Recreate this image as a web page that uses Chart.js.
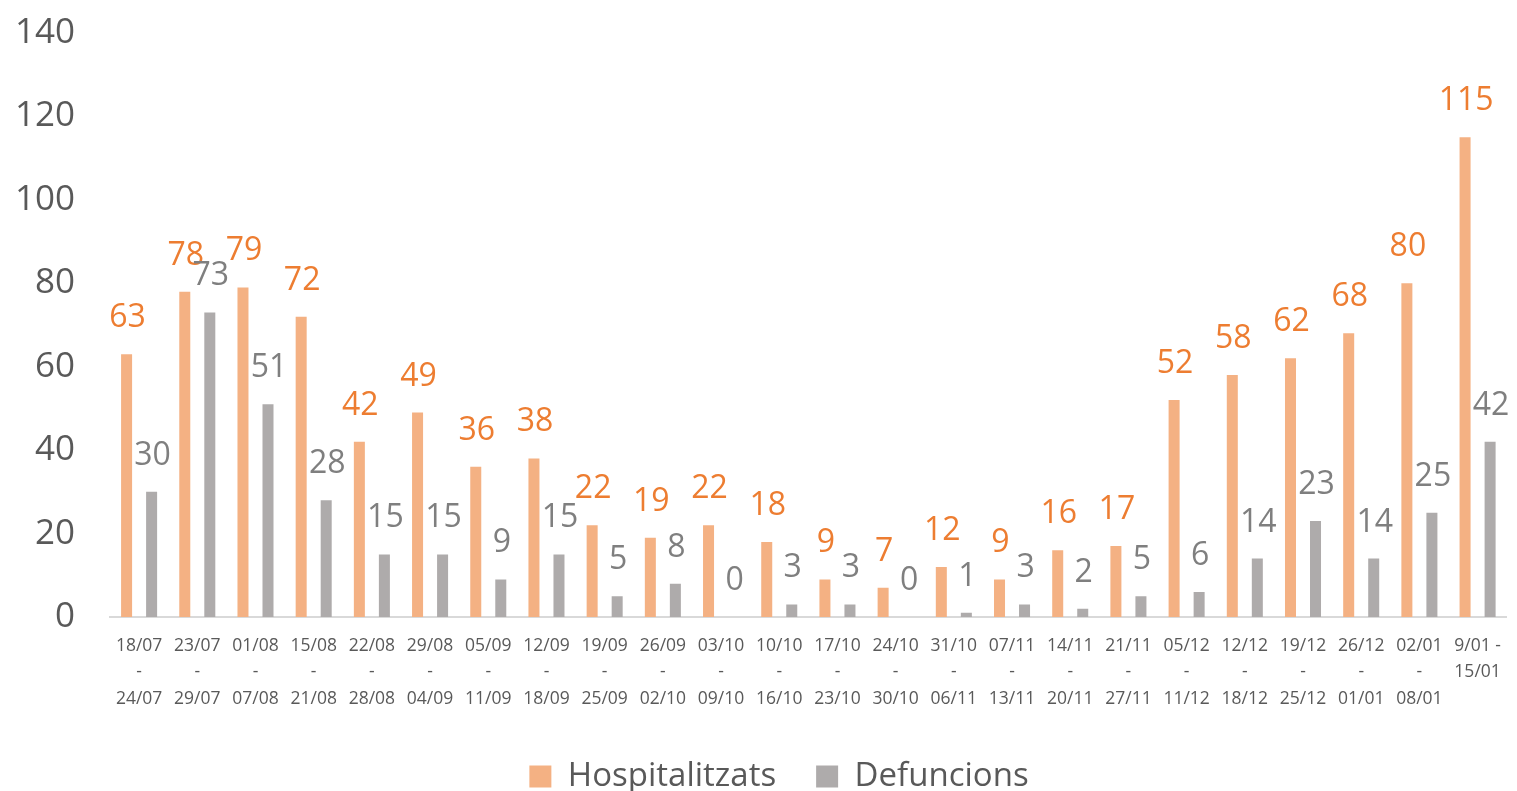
<!DOCTYPE html>
<html>
<head>
<meta charset="utf-8">
<script src="https://cdn.jsdelivr.net/npm/chart.js@4/dist/chart.umd.min.js"></script>
<style>
  html, body { margin: 0; padding: 0; background: #fff; overflow: hidden; }
  /* canvas runs a little past the window so the legend sits low like the original */
  #wrap { width: 1517px; height: 803px; }
</style>
</head>
<body>
<div id="wrap"><canvas id="chart"></canvas></div>
<script>
// --- Data ---
const weekLabels = [
  ['18/07', '-', '24/07'], ['23/07', '-', '29/07'], ['01/08', '-', '07/08'],
  ['15/08', '-', '21/08'], ['22/08', '-', '28/08'], ['29/08', '-', '04/09'],
  ['05/09', '-', '11/09'], ['12/09', '-', '18/09'], ['19/09', '-', '25/09'],
  ['26/09', '-', '02/10'], ['03/10', '-', '09/10'], ['10/10', '-', '16/10'],
  ['17/10', '-', '23/10'], ['24/10', '-', '30/10'], ['31/10', '-', '06/11'],
  ['07/11', '-', '13/11'], ['14/11', '-', '20/11'], ['21/11', '-', '27/11'],
  ['05/12', '-', '11/12'], ['12/12', '-', '18/12'], ['19/12', '-', '25/12'],
  ['26/12', '-', '01/01'], ['02/01', '-', '08/01'], ['9/01 -', '15/01'],
];
const hospitalitzats = [63, 78, 79, 72, 42, 49, 36, 38, 22, 19, 22, 18, 9, 7, 12, 9, 16, 17, 52, 58, 62, 68, 80, 115];
const defuncions = [30, 73, 51, 28, 15, 15, 9, 15, 5, 8, 0, 3, 3, 0, 1, 3, 2, 5, 6, 14, 23, 14, 25, 42];
const yTicks = { min: 0, max: 140, step: 20 };

const FONT = "'Open Sans', 'Noto Sans', sans-serif";
const TEXT_GRAY = '#595959';
const COLORS = {
  hosp: { bar: '#F4B183', label: '#ED7D31' },
  def: { bar: '#AEABAB', label: '#7F7F7F' },
};
const LEGEND_SHIFT = 23; // original legend sits a bit right of the page centre

// --- Value labels above bars ---
const valueLabels = {
  id: 'valueLabels',
  afterLayout(chart) {
    chart.legend.left += LEGEND_SHIFT;
    chart.legend.right += LEGEND_SHIFT;
  },
  afterDatasetsDraw(chart) {
    const ctx = chart.ctx;
    ctx.save();
    ctx.font = `32px ${FONT}`;
    ctx.textAlign = 'center';
    ctx.textBaseline = 'alphabetic';
    chart.data.datasets.forEach((ds, i) => {
      const meta = chart.getDatasetMeta(i);
      ctx.fillStyle = ds.labelColor;
      meta.data.forEach((bar, j) => {
        ctx.fillText(String(ds.data[j]), bar.x + 1, bar.y - 27);
      });
    });
    ctx.restore();
  },
};

// --- Chart ---
new Chart(document.getElementById('chart'), {
  type: 'bar',
  data: {
    labels: weekLabels,
    datasets: [
      {
        label: 'Hospitalitzats',
        data: hospitalitzats,
        backgroundColor: COLORS.hosp.bar,
        labelColor: COLORS.hosp.label,
        categoryPercentage: 0.86,
        barPercentage: 0.44,
      },
      {
        label: 'Defuncions',
        data: defuncions,
        backgroundColor: COLORS.def.bar,
        labelColor: COLORS.def.label,
        categoryPercentage: 0.86,
        barPercentage: 0.44,
      },
    ],
  },
  options: {
    responsive: true,
    maintainAspectRatio: false,
    animation: false,
    layout: { padding: { top: 33, left: 0, right: 5, bottom: 0 } },
    plugins: {
      tooltip: { enabled: false },
      legend: {
        position: 'bottom',
        labels: {
          color: TEXT_GRAY,
          font: { family: FONT, size: 33 },
          boxWidth: 22,
          boxHeight: 22,
          padding: 40,
        },
      },
    },
    scales: {
      x: {
        grid: { display: false, drawTicks: false },
        border: { display: true, color: '#D9D9D9', width: 2 },
        ticks: {
          color: TEXT_GRAY,
          font: { family: FONT, size: 17.5, lineHeight: 1.5 },
          padding: 16,
          maxRotation: 0,
          autoSkip: false,
        },
        afterFit: (s) => { s.height = 103; },
      },
      y: {
        min: yTicks.min,
        max: yTicks.max,
        grid: { display: false, drawTicks: false },
        border: { display: false },
        ticks: {
          stepSize: yTicks.step,
          color: TEXT_GRAY,
          font: { family: FONT, size: 35 },
          padding: 35,
        },
        afterFit: (s) => {
          s.width = 110;
          // tick padding is only meant to push labels left, not the plot down
          s.paddingTop = 0;
          s.paddingBottom = 0;
        },
      },
    },
  },
  plugins: [valueLabels],
});
</script>
</body>
</html>
